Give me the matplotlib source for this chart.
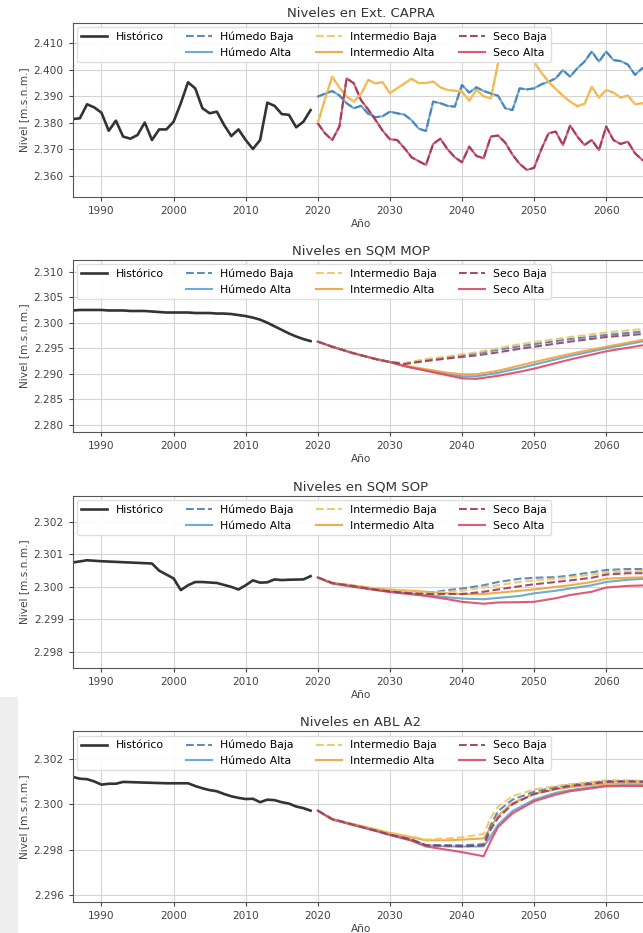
import matplotlib
matplotlib.use("Agg")
import matplotlib.pyplot as plt
from matplotlib.ticker import MultipleLocator, FuncFormatter
from matplotlib.lines import Line2D
from matplotlib.patches import Rectangle

# ---------------- DATA ----------------
titles = ["Niveles en Ext. CAPRA", "Niveles en SQM MOP", "Niveles en SQM SOP", "Niveles en ABL A2"]
series_labels = ["Húmedo Baja", "Húmedo Alta", "Intermedio Baja", "Intermedio Alta", "Seco Baja", "Seco Alta"]

# --- Ext. CAPRA ---
capra_hist_years = list(range(1986, 2020))
capra_hist = [2381.4, 2381.7, 2387.0, 2385.8, 2383.8, 2377.0, 2380.8, 2374.8, 2374.0, 2375.4,
              2380.1, 2373.5, 2377.5, 2377.5, 2380.4, 2387.4, 2395.3, 2393.0, 2385.5, 2383.6,
              2384.2, 2379.2, 2375.0, 2377.5, 2373.5, 2370.1, 2373.5, 2387.6, 2386.4, 2383.3,
              2383.0, 2378.3, 2380.4, 2384.8]
capra_proj_years = list(range(2020, 2067))
capra_humedo = [2389.9, 2391.0, 2392.0, 2390.3, 2387.4, 2385.5, 2386.4, 2383.4, 2382.1, 2382.5,
                2384.2, 2383.6, 2383.1, 2381.0, 2377.8, 2376.9, 2388.0, 2387.4, 2386.4, 2386.1,
                2394.3, 2391.4, 2393.4, 2392.0, 2391.1, 2390.2, 2385.5, 2384.8, 2393.0, 2392.6,
                2393.0, 2394.5, 2395.5, 2396.8, 2399.9, 2397.4, 2400.6, 2403.1, 2406.9, 2403.1,
                2406.9, 2403.7, 2403.3, 2402.0, 2398.1, 2400.6, 2400.0]
capra_intermedio = [2379.8, 2389.0, 2397.4, 2393.3, 2389.9, 2388.0, 2390.9, 2396.2, 2394.9, 2395.3,
                    2391.2, 2393.0, 2394.8, 2396.6, 2395.0, 2395.0, 2395.6, 2393.4, 2392.4, 2392.1,
                    2391.8, 2388.3, 2392.5, 2390.0, 2389.2, 2402.5, 2409.0, 2411.0, 2410.5, 2408.0,
                    2403.0, 2399.0, 2395.5, 2392.8, 2390.2, 2388.0, 2386.3, 2387.2, 2393.6, 2389.5,
                    2392.4, 2391.4, 2389.5, 2390.3, 2387.0, 2387.4, 2386.5]
capra_seco = [2379.8, 2376.0, 2373.5, 2378.6, 2396.8, 2394.9, 2388.5, 2385.0, 2381.1, 2377.0,
              2373.8, 2373.5, 2370.5, 2367.0, 2365.5, 2364.1, 2372.0, 2374.0, 2370.0, 2367.0,
              2365.1, 2371.0, 2367.5, 2366.6, 2374.8, 2375.2, 2372.5, 2368.0, 2364.5, 2362.2,
              2363.0, 2370.0, 2376.0, 2376.7, 2371.6, 2379.0, 2374.8, 2371.6, 2373.5, 2369.7,
              2378.6, 2373.5, 2372.0, 2372.9, 2368.5, 2366.0, 2364.5]

# --- SQM MOP ---
mop_hist_years = list(range(1986, 2020))
mop_hist = [2302.4, 2302.5, 2302.5, 2302.5, 2302.5, 2302.4, 2302.4, 2302.4, 2302.3, 2302.3,
            2302.3, 2302.2, 2302.1, 2302.0, 2302.0, 2302.0, 2302.0, 2301.9, 2301.9, 2301.9,
            2301.8, 2301.8, 2301.7, 2301.5, 2301.3, 2301.0, 2300.6, 2300.0, 2299.3, 2298.6,
            2297.9, 2297.3, 2296.8, 2296.4]
mop_years = [2020, 2022, 2025, 2028, 2030, 2032, 2035, 2038, 2040, 2042, 2045, 2048, 2050, 2055, 2060, 2066]
mop_hum_baja = [2296.3, 2295.3, 2294.0, 2292.9, 2292.3, 2292.0, 2292.7, 2293.2, 2293.6, 2294.0, 2294.7, 2295.4, 2295.8, 2296.8, 2297.6, 2298.4]
mop_hum_alta = [2296.3, 2295.3, 2294.0, 2292.9, 2292.3, 2291.5, 2290.7, 2289.9, 2289.5, 2289.5, 2290.2, 2291.1, 2291.8, 2293.5, 2295.0, 2296.6]
mop_int_baja = [2296.3, 2295.3, 2294.0, 2292.9, 2292.3, 2292.1, 2292.9, 2293.4, 2293.8, 2294.2, 2295.0, 2295.8, 2296.2, 2297.2, 2298.1, 2298.9]
mop_int_alta = [2296.3, 2295.3, 2294.0, 2292.9, 2292.3, 2291.6, 2290.9, 2290.2, 2289.9, 2289.9, 2290.6, 2291.6, 2292.3, 2293.9, 2295.3, 2296.9]
mop_seco_baja = [2296.3, 2295.3, 2294.0, 2292.9, 2292.3, 2291.9, 2292.5, 2293.0, 2293.3, 2293.6, 2294.2, 2294.9, 2295.3, 2296.3, 2297.2, 2297.9]
mop_seco_alta = [2296.3, 2295.3, 2294.0, 2292.9, 2292.3, 2291.5, 2290.6, 2289.7, 2289.1, 2289.0, 2289.6, 2290.4, 2291.0, 2292.8, 2294.4, 2295.8]

# --- SQM SOP ---
sop_hist_years = [1986, 1988, 1990, 1992, 1994, 1997, 1998, 2000, 2001, 2002, 2003, 2004, 2006, 2008,
                  2009, 2010, 2011, 2012, 2013, 2014, 2015, 2016, 2018, 2019]
sop_hist = [2300.75, 2300.82, 2300.79, 2300.77, 2300.75, 2300.72, 2300.50, 2300.26, 2299.90, 2300.05,
            2300.15, 2300.15, 2300.12, 2300.00, 2299.92, 2300.05, 2300.20, 2300.13, 2300.14, 2300.23,
            2300.21, 2300.22, 2300.23, 2300.33]
sop_years = [2020, 2022, 2025, 2028, 2030, 2033, 2035, 2038, 2040, 2043, 2045, 2048, 2050, 2053, 2055, 2058, 2060, 2063, 2066]
sop_hum_baja = [2300.29, 2300.12, 2300.02, 2299.92, 2299.86, 2299.80, 2299.80, 2299.90, 2299.95, 2300.05, 2300.15, 2300.25, 2300.28, 2300.30, 2300.35, 2300.45, 2300.52, 2300.55, 2300.55]
sop_hum_alta = [2300.29, 2300.12, 2300.02, 2299.92, 2299.86, 2299.80, 2299.75, 2299.68, 2299.64, 2299.62, 2299.66, 2299.72, 2299.80, 2299.88, 2299.95, 2300.05, 2300.15, 2300.22, 2300.26]
sop_int_baja = [2300.29, 2300.12, 2300.04, 2299.96, 2299.92, 2299.86, 2299.82, 2299.85, 2299.88, 2299.98, 2300.05, 2300.15, 2300.20, 2300.25, 2300.30, 2300.38, 2300.45, 2300.48, 2300.50]
sop_int_alta = [2300.29, 2300.12, 2300.04, 2299.95, 2299.92, 2299.88, 2299.85, 2299.80, 2299.78, 2299.78, 2299.82, 2299.88, 2299.92, 2300.00, 2300.05, 2300.15, 2300.25, 2300.28, 2300.30]
sop_seco_baja = [2300.29, 2300.12, 2300.02, 2299.92, 2299.86, 2299.80, 2299.78, 2299.78, 2299.78, 2299.85, 2299.92, 2300.02, 2300.08, 2300.15, 2300.20, 2300.28, 2300.38, 2300.42, 2300.42]
sop_seco_alta = [2300.29, 2300.10, 2300.00, 2299.90, 2299.84, 2299.77, 2299.72, 2299.62, 2299.54, 2299.48, 2299.52, 2299.53, 2299.54, 2299.65, 2299.75, 2299.85, 2299.98, 2300.03, 2300.05]

# --- ABL A2 ---
abl_hist_years = [1986, 1987, 1988, 1989, 1990, 1991, 1992, 1993, 1996, 1999, 2002, 2003, 2004, 2005,
                  2006, 2007, 2008, 2009, 2010, 2011, 2012, 2013, 2014, 2015, 2016, 2017, 2018, 2019]
abl_hist = [2301.20, 2301.12, 2301.10, 2301.00, 2300.86, 2300.90, 2300.90, 2300.98, 2300.95, 2300.92,
            2300.92, 2300.80, 2300.70, 2300.62, 2300.57, 2300.45, 2300.35, 2300.28, 2300.23, 2300.24,
            2300.09, 2300.20, 2300.18, 2300.09, 2300.03, 2299.90, 2299.83, 2299.72]
abl_years = [2020, 2022, 2025, 2028, 2030, 2033, 2035, 2038, 2040, 2043, 2044, 2045, 2047, 2050, 2053, 2055, 2058, 2060, 2063, 2066]
abl_hum_baja = [2299.72, 2299.35, 2299.10, 2298.85, 2298.67, 2298.45, 2298.20, 2298.20, 2298.20, 2298.25, 2299.10, 2299.70, 2300.20, 2300.55, 2300.75, 2300.85, 2300.95, 2301.02, 2301.02, 2301.00]
abl_hum_alta = [2299.72, 2299.35, 2299.10, 2298.85, 2298.67, 2298.45, 2298.20, 2298.15, 2298.15, 2298.15, 2298.60, 2299.10, 2299.70, 2300.20, 2300.50, 2300.62, 2300.75, 2300.82, 2300.85, 2300.85]
abl_int_baja = [2299.72, 2299.35, 2299.12, 2298.90, 2298.75, 2298.58, 2298.45, 2298.50, 2298.55, 2298.70, 2299.40, 2299.90, 2300.35, 2300.65, 2300.80, 2300.88, 2300.98, 2301.05, 2301.05, 2301.02]
abl_int_alta = [2299.72, 2299.35, 2299.12, 2298.90, 2298.74, 2298.55, 2298.42, 2298.42, 2298.45, 2298.50, 2299.00, 2299.50, 2300.05, 2300.45, 2300.65, 2300.75, 2300.85, 2300.90, 2300.92, 2300.90]
abl_seco_baja = [2299.72, 2299.35, 2299.10, 2298.85, 2298.67, 2298.45, 2298.20, 2298.18, 2298.15, 2298.20, 2298.90, 2299.40, 2300.00, 2300.45, 2300.68, 2300.80, 2300.90, 2300.98, 2301.00, 2300.98]
abl_seco_alta = [2299.72, 2299.33, 2299.08, 2298.83, 2298.65, 2298.40, 2298.15, 2298.00, 2297.90, 2297.72, 2298.40, 2299.00, 2299.60, 2300.13, 2300.42, 2300.57, 2300.70, 2300.79, 2300.80, 2300.80]

# ---------------- STYLE ----------------
colors = {"Húmedo Baja": "#4a80b8", "Húmedo Alta": "#5ea3cc",
          "Intermedio Baja": "#f2c55a", "Intermedio Alta": "#eea23a",
          "Seco Baja": "#9a3a5c", "Seco Alta": "#df4862"}
styles = {"Húmedo Baja": "--", "Húmedo Alta": "-", "Intermedio Baja": "--",
          "Intermedio Alta": "-", "Seco Baja": "--", "Seco Alta": "-"}

panels = [
    dict(hist_x=capra_hist_years, hist_y=capra_hist,
         proj={"Húmedo Alta": (capra_proj_years, capra_humedo), "Húmedo Baja": (capra_proj_years, capra_humedo),
               "Intermedio Alta": (capra_proj_years, capra_intermedio), "Intermedio Baja": (capra_proj_years, capra_intermedio),
               "Seco Alta": (capra_proj_years, capra_seco), "Seco Baja": (capra_proj_years, capra_seco)},
         ylim=(2352.0, 2417.7), step=10),
    dict(hist_x=mop_hist_years, hist_y=mop_hist,
         proj={"Húmedo Baja": (mop_years, mop_hum_baja), "Húmedo Alta": (mop_years, mop_hum_alta),
               "Intermedio Baja": (mop_years, mop_int_baja), "Intermedio Alta": (mop_years, mop_int_alta),
               "Seco Baja": (mop_years, mop_seco_baja), "Seco Alta": (mop_years, mop_seco_alta)},
         ylim=(2278.6, 2312.3), step=5),
    dict(hist_x=sop_hist_years, hist_y=sop_hist,
         proj={"Húmedo Baja": (sop_years, sop_hum_baja), "Húmedo Alta": (sop_years, sop_hum_alta),
               "Intermedio Baja": (sop_years, sop_int_baja), "Intermedio Alta": (sop_years, sop_int_alta),
               "Seco Baja": (sop_years, sop_seco_baja), "Seco Alta": (sop_years, sop_seco_alta)},
         ylim=(2297.5, 2302.8), step=1),
    dict(hist_x=abl_hist_years, hist_y=abl_hist,
         proj={"Húmedo Baja": (abl_years, abl_hum_baja), "Húmedo Alta": (abl_years, abl_hum_alta),
               "Intermedio Baja": (abl_years, abl_int_baja), "Intermedio Alta": (abl_years, abl_int_alta),
               "Seco Baja": (abl_years, abl_seco_baja), "Seco Alta": (abl_years, abl_seco_alta)},
         ylim=(2295.7, 2303.2), step=2),
]

positions = [[0.113, 0.7889, 0.897, 0.1865],
             [0.113, 0.537, 0.897, 0.1844],
             [0.113, 0.284, 0.897, 0.1844],
             [0.113, 0.0329, 0.897, 0.1833]]

fig = plt.figure(figsize=(6.43, 9.33), dpi=100)
fig.patches.append(Rectangle((0, 0), 18 / 643, (933 - 697) / 933, transform=fig.transFigure,
                             facecolor="#eeeeee", edgecolor="none", zorder=-10))

fmt = FuncFormatter(lambda v, p: f"{v:,.0f}".replace(",", "."))
draw_order = ["Húmedo Alta", "Intermedio Alta", "Seco Alta", "Húmedo Baja", "Intermedio Baja", "Seco Baja"]

for title, pnl, pos in zip(titles, panels, positions):
    ax = fig.add_axes(pos)
    ax.grid(True, color="#d4d4d4", linewidth=0.8)
    ax.set_axisbelow(True)
    handles = {}
    for name in draw_order:
        xs, ys = pnl["proj"][name]
        ln, = ax.plot(xs, ys, linestyle=styles[name], color=colors[name], linewidth=1.5,
                      alpha=0.9, label=name)
        handles[name] = ln
    h_hist, = ax.plot(pnl["hist_x"], pnl["hist_y"], color="#333333", linewidth=1.9, label="Histórico")
    blank = Line2D([], [], linestyle="none", label=" ")
    hs = [h_hist, blank] + [handles[n] for n in series_labels]
    ls = ["Histórico", " "] + series_labels
    ax.legend(hs, ls, loc="upper left", ncol=4, fontsize=7.8, handlelength=2.4,
              handletextpad=0.8, columnspacing=2.0, borderaxespad=0.4, framealpha=0.92,
              edgecolor="#dddddd", labelspacing=0.5)
    ax.set_xlim(1986, 2066)
    ax.set_ylim(*pnl["ylim"])
    ax.yaxis.set_major_locator(MultipleLocator(pnl["step"]))
    ax.yaxis.set_major_formatter(fmt)
    ax.xaxis.set_major_locator(MultipleLocator(10))
    ax.tick_params(labelsize=7.6, colors="#444444", length=3)
    ax.set_title(title, fontsize=9.5, pad=4, color="#333333")
    ax.set_xlabel("Año", fontsize=7.6, color="#444444", labelpad=2)
    ax.set_ylabel("Nivel [m.s.n.m.]", fontsize=7.6, color="#444444", labelpad=3)
    for s in ax.spines.values():
        s.set_color("#555555")

fig.savefig("out.png", dpi=100)
